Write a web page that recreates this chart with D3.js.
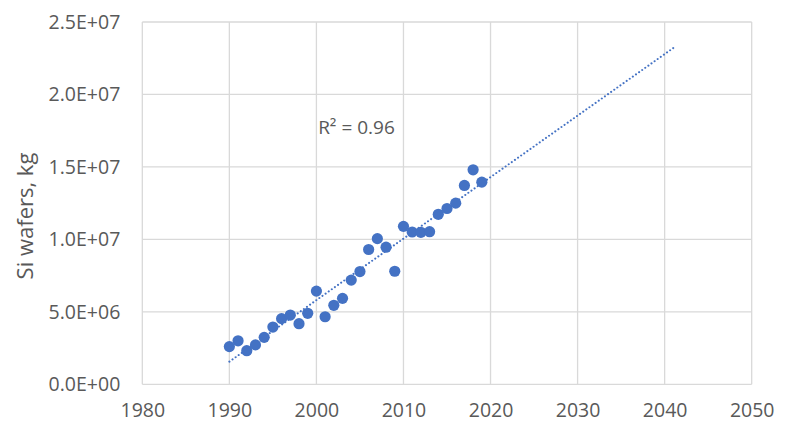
<!DOCTYPE html>
<html><head><meta charset="utf-8">
<script src="https://cdn.jsdelivr.net/npm/d3@7"></script>
<style>
html,body{margin:0;padding:0;background:#fff;}
text{font-family:"Open Sans",sans-serif;fill:#595959;}
</style></head>
<body><svg id="c" width="791" height="422"></svg>
<script>
const years = [1990,1991,1992,1993,1994,1995,1996,1997,1998,1999,2000,2001,2002,2003,2004,2005,2006,2007,2008,2009,2010,2011,2012,2013,2014,2015,2016,2017,2018,2019];
const wafersKg = [2.6e6,3.0e6,2.32e6,2.72e6,3.24e6,3.95e6,4.53e6,4.78e6,4.18e6,4.9e6,6.43e6,4.66e6,5.45e6,5.93e6,7.19e6,7.78e6,9.3e6,1.005e7,9.46e6,7.8e6,1.09e7,1.051e7,1.049e7,1.053e7,1.173e7,1.213e7,1.25e7,1.372e7,1.48e7,1.395e7];
const xTicks = [1980,1990,2000,2010,2020,2030,2040,2050];
const yTicks = [0,5e6,1e7,1.5e7,2e7,2.5e7];
const trendEndYear = 2041;
const r2Label = "R² = 0.96";
const yTitle = "Si wafers, kg";

const svg = d3.select("#c");
const m = {l:142.3, r:751.7, t:22, b:384.3};
const x = d3.scaleLinear().domain([1980,2050]).range([m.l,m.r]);
const y = d3.scaleLinear().domain([0,2.5e7]).range([m.b,m.t]);
const grid = "#d9d9d9";
const blue = "#4472c4";

// gridlines
svg.append("g").selectAll("line").data(xTicks).join("line")
  .attr("x1",d=>x(d)).attr("x2",d=>x(d)).attr("y1",m.t).attr("y2",m.b)
  .attr("stroke",grid).attr("stroke-width",1.3);
svg.append("g").selectAll("line").data(yTicks).join("line")
  .attr("x1",m.l).attr("x2",m.r).attr("y1",d=>y(d)).attr("y2",d=>y(d))
  .attr("stroke",grid).attr("stroke-width",1.3);

// axes labels
const fmt = d => { const e = d3.format(".1e")(d); const [mant,ex] = e.split("e"); const n = parseInt(ex); return mant + "E" + (n<0?"-":"+") + String(Math.abs(n)).padStart(2,"0"); };
const yAxis = d3.axisLeft(y).tickValues(yTicks).tickFormat(fmt).tickSize(0).tickPadding(22);
const gy = svg.append("g").attr("transform",`translate(${m.l},0)`).call(yAxis);
gy.select(".domain").remove();
gy.selectAll("text").style("font-size","19.5px").style("fill","#595959").style("font-family","Open Sans");
const xAxis = d3.axisBottom(x).tickValues(xTicks).tickFormat(d3.format("d")).tickSize(0).tickPadding(19);
const gx = svg.append("g").attr("transform",`translate(0,${m.b})`).call(xAxis);
gx.select(".domain").remove();
gx.selectAll("text").style("font-size","19.5px").style("fill","#595959").style("font-family","Open Sans");

// trendline (least squares)
const mx = d3.mean(years), my = d3.mean(wafersKg);
let sxy=0,sxx=0; years.forEach((v,i)=>{sxy+=(v-mx)*(wafersKg[i]-my); sxx+=(v-mx)*(v-mx);});
const slope = sxy/sxx, icpt = my - slope*mx;
const trend = [years[0], trendEndYear].map(t=>[t, icpt+slope*t]);
svg.append("path").datum(trend)
  .attr("d", d3.line().x(d=>x(d[0])).y(d=>y(d[1])))
  .attr("stroke",blue).attr("stroke-width",2).attr("fill","none")
  .attr("stroke-dasharray","0.1 3.7").attr("stroke-linecap","round");

// points
svg.append("g").selectAll("circle").data(years).join("circle")
  .attr("cx",d=>x(d)).attr("cy",(d,i)=>y(wafersKg[i])).attr("r",5.6)
  .attr("fill",blue);

// R2 label
svg.append("text").attr("x",x(2000.2)).attr("y",y(1.77e7)).attr("dy","0.35em")
  .style("font-size","19px").text(r2Label);

// y title
svg.append("text").attr("transform",`translate(25,${216}) rotate(-90)`)
  .attr("text-anchor","middle").attr("dy","0.35em").style("font-size","22px").text(yTitle);
</script></body></html>
